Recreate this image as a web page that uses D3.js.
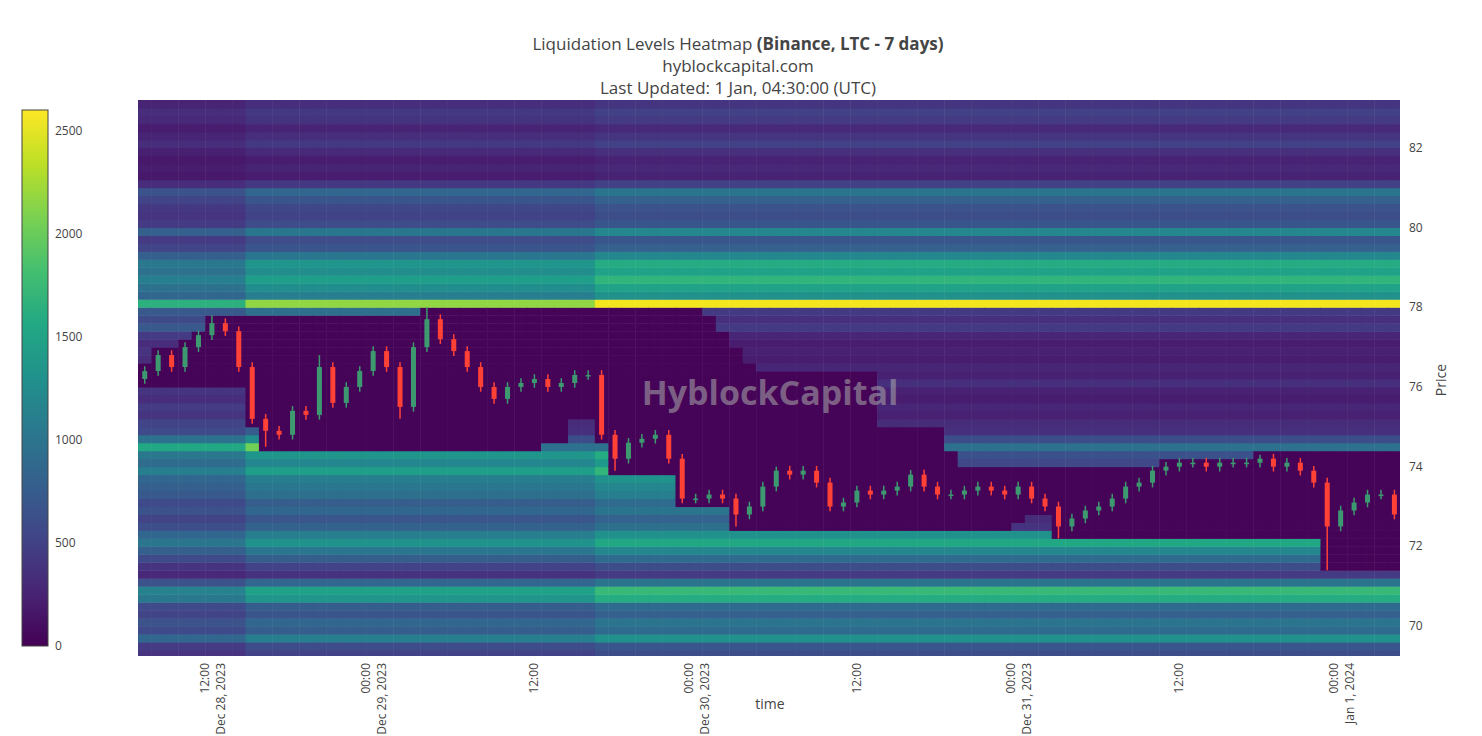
<!DOCTYPE html>
<html><head><meta charset="utf-8">
<script src="https://cdn.jsdelivr.net/npm/d3@7"></script>
<style>body{margin:0;background:#fff;font-family:"Open Sans",sans-serif}</style>
</head><body><svg id="chart" width="1482" height="736"></svg>
<script>
// hourly closes from Dec 28 06:30 UTC
var closes = [76.4,76.8,76.5,77.0,77.3,77.6,77.4,76.5,75.2,74.9,74.8,75.4,75.3,76.5,75.6,76.0,76.4,76.9,76.5,75.5,
  77.0,77.7,77.2,76.9,76.5,76.0,75.7,76.0,76.1,76.2,76.0,76.1,76.3,76.3,74.8,74.2,74.6,74.7,74.8,74.2,
  73.2,73.2,73.3,73.2,72.8,73.0,73.5,73.9,73.8,73.9,73.6,73.0,73.1,73.4,73.3,73.4,73.5,73.8,73.5,73.3,
  73.3,73.4,73.5,73.4,73.3,73.5,73.2,73.0,72.5,72.7,72.9,73.0,73.2,73.5,73.6,73.9,74.0,74.1,74.1,74.0,
  74.1,74.1,74.1,74.2,74.0,74.1,73.9,73.6,72.5,72.9,73.1,73.3,73.3,72.8];
var spikeHigh = {5: 77.8, 21: 78.0, 47: 74.0, 83: 74.3, 13: 76.8};
var spikeLow = {9: 74.5, 19: 75.2, 44: 72.5, 68: 72.2, 88: 71.4, 35: 73.9};

// liquidation level intensity per 0.2 price row, from 69.3 upward
var rowPrices = d3.range(70).map(function(i){ return +(69.3 + i * 0.2).toFixed(1); });
var rowValues = [600,700,1300,900,1000,800,900,1600,1750,1000,450,600,900,1200,1550,1300,950,800,1000,900,
  1100,1200,1300,1700,1400,1600,2400,1500,900,800,600,700,500,600,900,600,700,500,600,500,
  700,1100,900,1100,2550,1300,1500,1700,1500,1600,1200,800,700,1200,700,600,650,800,1000,500,
  250,300,250,350,500,400,300,450,500,400];
var growthHours = [0, 8, 34];
var growthScale = [0.65, 0.85, 1.0];

var xTicks = [
  {t: Date.UTC(2023,11,28,12), a: "12:00", b: "Dec 28, 2023"},
  {t: Date.UTC(2023,11,29,0), a: "00:00", b: "Dec 29, 2023"},
  {t: Date.UTC(2023,11,29,12), a: "12:00", b: ""},
  {t: Date.UTC(2023,11,30,0), a: "00:00", b: "Dec 30, 2023"},
  {t: Date.UTC(2023,11,30,12), a: "12:00", b: ""},
  {t: Date.UTC(2023,11,31,0), a: "00:00", b: "Dec 31, 2023"},
  {t: Date.UTC(2023,11,31,12), a: "12:00", b: ""},
  {t: Date.UTC(2024,0,1,0), a: "00:00", b: "Jan 1, 2024"}
];
var priceTicks = [70,72,74,76,78,80,82];
var cbTicks = [0,500,1000,1500,2000,2500];

var cfg = {left: 138, right: 1400, top: 100, bottom: 656};
var t0 = Date.UTC(2023,11,28,6,30), t1 = Date.UTC(2024,0,1,4,25);
var H = 3600000;

var svg = d3.select("#chart");
var x = d3.scaleUtc().domain([t0, t1]).range([cfg.left, cfg.right]);
var y = d3.scaleLinear().domain([69.25, 83.2]).range([cfg.bottom, cfg.top]);
var color = d3.scaleSequential(d3.interpolateViridis).domain([0, 2600]);

var candles = closes.map(function(c, i){
  var o = i ? closes[i-1] : 76.2;
  return {t: t0 + i * H, o: o, c: c,
    h: spikeHigh[i] !== undefined ? spikeHigh[i] : Math.max(o, c) + 0.12,
    l: spikeLow[i] !== undefined ? spikeLow[i] : Math.min(o, c) - 0.12};
});

// heatmap cells: levels swept by price get liquidated
var W = 20, cells = [];
candles.forEach(function(cd, h){
  var g = growthScale[d3.bisectRight(growthHours, h) - 1];
  var win = candles.slice(Math.max(0, h - W), h + 1);
  var lo = d3.min(win, function(d){ return d.l; }), hi = d3.max(win, function(d){ return d.h; });
  var past = candles.slice(0, h + 1);
  rowPrices.forEach(function(p, r){
    var v = rowValues[r] * g;
    if (p >= lo - 0.05 && p <= hi + 0.05) v = 30;
    else if (past.some(function(d){ return p >= d.l && p <= d.h; })) v = rowValues[r] * 0.4;
    cells.push({t: cd.t, p: p, v: v});
  });
});

var clip = svg.append("clipPath").attr("id", "clip").append("rect")
  .attr("x", cfg.left).attr("y", cfg.top).attr("width", cfg.right - cfg.left).attr("height", cfg.bottom - cfg.top);
var plot = svg.append("g").attr("clip-path", "url(#clip)");
plot.selectAll("rect.cell").data(cells).enter().append("rect")
  .attr("x", function(d){ return x(d.t); })
  .attr("width", function(d){ return x(d.t + H) - x(d.t) + 0.5; })
  .attr("y", function(d){ return y(d.p + 0.1); })
  .attr("height", function(d){ return y(d.p - 0.1) - y(d.p + 0.1) + 0.5; })
  .attr("fill", function(d){ return color(d.v); });

plot.append("text").attr("x", 770).attr("y", 405).attr("text-anchor", "middle")
  .attr("font-size", 34).attr("font-weight", "bold").attr("fill", "#aaa").attr("opacity", 0.55)
  .text("HyblockCapital");

var cg = plot.selectAll("g.cd").data(candles).enter().append("g");
var cc = function(d){ return d.c >= d.o ? "#3d9970" : "#ff4136"; };
cg.append("line")
  .attr("x1", function(d){ return x(d.t + H/2); }).attr("x2", function(d){ return x(d.t + H/2); })
  .attr("y1", function(d){ return y(d.h); }).attr("y2", function(d){ return y(d.l); })
  .attr("stroke", cc).attr("stroke-width", 1.5);
cg.append("rect")
  .attr("x", function(d){ return x(d.t + H/2) - 2.5; }).attr("width", 5)
  .attr("y", function(d){ return y(Math.max(d.o, d.c)); })
  .attr("height", function(d){ return Math.max(1.5, Math.abs(y(d.o) - y(d.c))); })
  .attr("fill", cc);

// right price axis
var ya = svg.append("g");
priceTicks.forEach(function(p){
  ya.append("text").attr("x", cfg.right + 9).attr("y", y(p) + 4).attr("font-size", 12).attr("fill", "#444").text(p);
});
svg.append("text").attr("transform", "translate(1446,380) rotate(-90)").attr("text-anchor", "middle")
  .attr("font-size", 14).attr("fill", "#444").text("Price");

// x axis ticks, rotated
xTicks.forEach(function(tk){
  var g = svg.append("g").attr("transform", "translate(" + x(tk.t) + "," + (cfg.bottom + 7) + ") rotate(-90)");
  g.append("text").attr("text-anchor", "end").attr("x", 0).attr("y", tk.b ? -3 : 4).attr("font-size", 12).attr("fill", "#444").text(tk.a);
  if (tk.b) g.append("text").attr("text-anchor", "end").attr("x", 0).attr("y", 13).attr("font-size", 12).attr("fill", "#444").text(tk.b);
});
svg.append("text").attr("x", 770).attr("y", 709).attr("text-anchor", "middle").attr("font-size", 14).attr("fill", "#444").text("time");

// colorbar
var cy = d3.scaleLinear().domain([0, 2600]).range([646, 110]);
var grad = svg.append("defs").append("linearGradient").attr("id", "cb").attr("x1", 0).attr("y1", 1).attr("x2", 0).attr("y2", 0);
d3.range(0, 1.01, 0.1).forEach(function(s){
  grad.append("stop").attr("offset", s).attr("stop-color", d3.interpolateViridis(s));
});
svg.append("rect").attr("x", 22).attr("y", 110).attr("width", 26).attr("height", 536)
  .attr("fill", "url(#cb)").attr("stroke", "#444").attr("stroke-width", 1);
cbTicks.forEach(function(v){
  svg.append("text").attr("x", 55).attr("y", cy(v) + 4).attr("font-size", 12).attr("fill", "#444").text(v);
});

// title
var tt = svg.append("text").attr("x", 738).attr("y", 50).attr("text-anchor", "middle").attr("font-size", 17).attr("fill", "#444");
tt.append("tspan").text("Liquidation Levels Heatmap ");
tt.append("tspan").attr("font-weight", "bold").text("(Binance, LTC - 7 days)");
svg.append("text").attr("x", 738).attr("y", 72).attr("text-anchor", "middle").attr("font-size", 17).attr("fill", "#444").text("hyblockcapital.com");
svg.append("text").attr("x", 738).attr("y", 94).attr("text-anchor", "middle").attr("font-size", 17).attr("fill", "#444").text("Last Updated: 1 Jan, 04:30:00 (UTC)");
</script></body></html>
